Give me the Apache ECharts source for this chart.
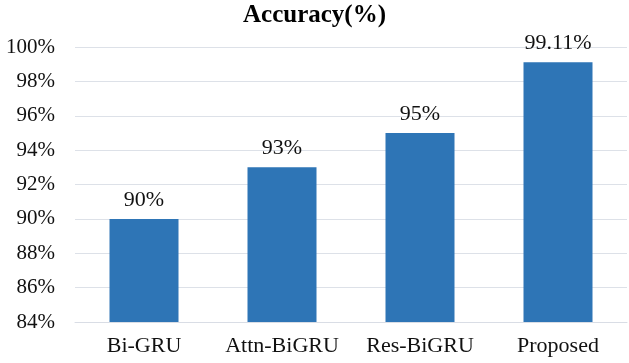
<!DOCTYPE html>
<html>
<head>
<meta charset="utf-8">
<script src="https://cdn.jsdelivr.net/npm/echarts@6/dist/echarts.min.js"></script>
<style>
  html, body { margin: 0; padding: 0; background: #fff; }
  #chart { width: 629px; height: 363px; }
</style>
</head>
<body>
<div id="chart"></div>
<script>
// data
const models = ['Bi-GRU', 'Attn-BiGRU', 'Res-BiGRU', 'Proposed'];
const accuracy = [90, 93, 95, 99.11];
const yMin = 84;
const yMax = 100;
const yStep = 2;

const chart = echarts.init(document.getElementById('chart'));

const font = '"Liberation Serif", "Times New Roman", serif';

const option = {
  animation: false,
  title: {
    text: 'Accuracy(%)',
    left: 'center',
    top: -2,
    textStyle: {
      fontFamily: font,
      fontSize: 25,
      fontWeight: 'bold',
      color: '#000',
    },
  },
  grid: {
    left: 75,
    right: 2,
    top: 47,
    bottom: 41,
  },
  xAxis: {
    type: 'category',
    data: models,
    axisTick: { show: false },
    axisLine: { lineStyle: { color: '#d9dde5' } },
    axisLabel: {
      interval: 0,
      color: '#111',
      fontFamily: font,
      fontSize: 22,
      margin: 13,
    },
  },
  yAxis: {
    type: 'value',
    min: yMin,
    max: yMax,
    interval: yStep,
    axisLine: { show: false },
    axisTick: { show: false },
    axisLabel: {
      formatter: '{value}%',
      color: '#111',
      fontFamily: font,
      fontSize: 21,
      margin: 20,
    },
    splitLine: {
      lineStyle: { color: '#dde1e8', width: 1 },
    },
  },
  series: [
    {
      type: 'bar',
      data: accuracy,
      barWidth: '50%',
      itemStyle: { color: '#2e75b6' },
      label: {
        show: true,
        position: 'top',
        distance: 8,
        formatter: (p) => p.value + '%',
        color: '#111',
        fontFamily: font,
        fontSize: 22,
      },
    },
  ],
};

chart.setOption(option);
</script>
</body>
</html>
